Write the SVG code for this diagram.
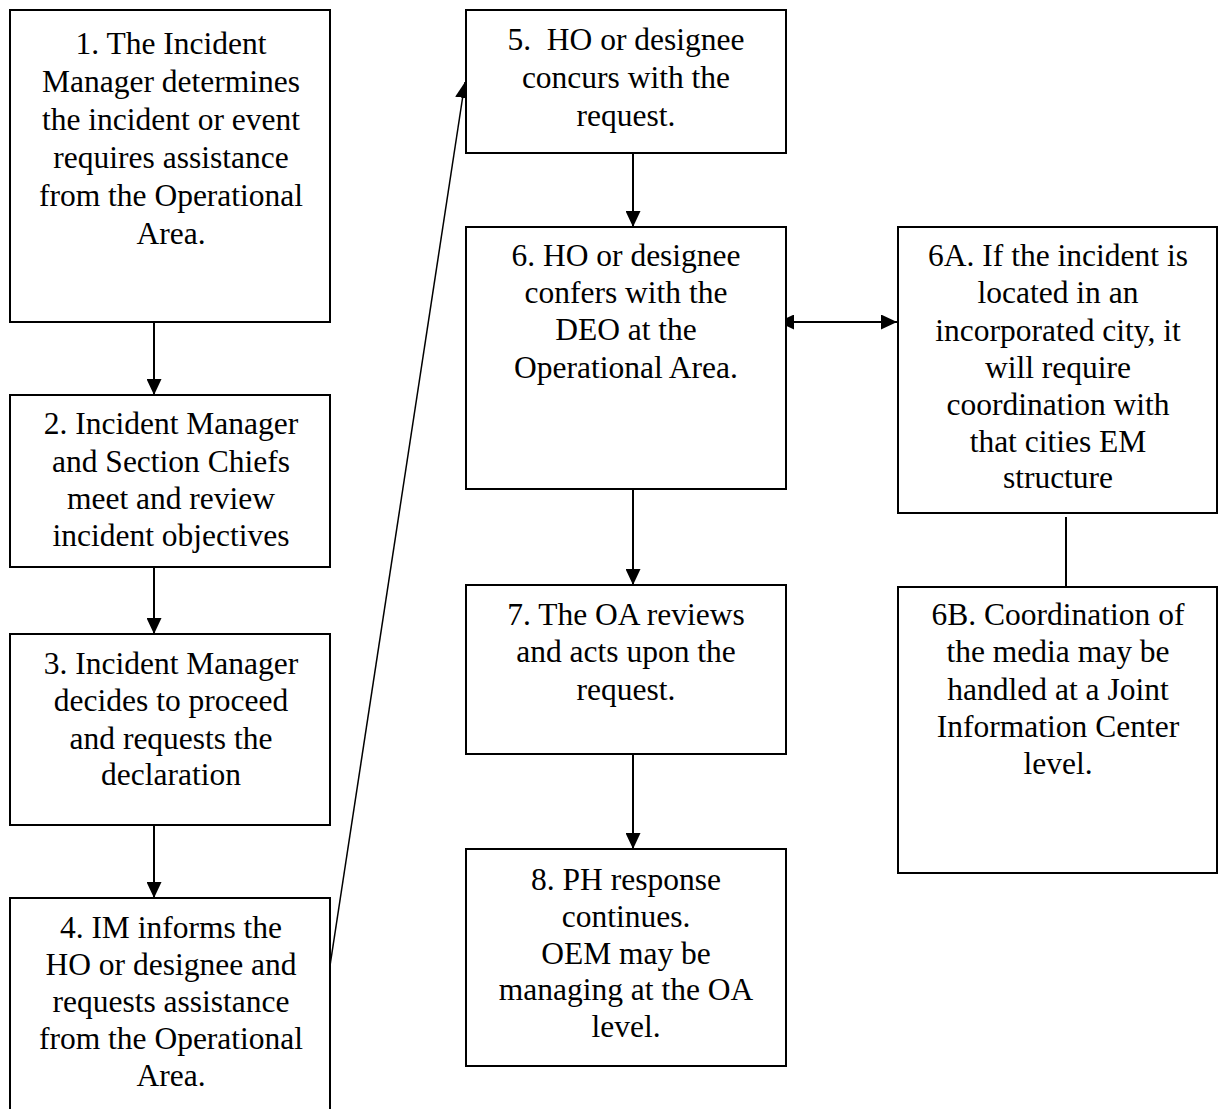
<svg xmlns="http://www.w3.org/2000/svg" width="1219" height="1109" viewBox="0 0 1219 1109">
  <style>
    .box { fill: #ffffff; stroke: #000000; stroke-width: 2; }
    .lbl { font-family: "Liberation Serif", "Times New Roman", serif; font-size: 31.5px; fill: #000000; text-anchor: middle; }
    .link { fill: none; stroke: #000000; stroke-width: 2; }
    .thin { fill: none; stroke: #000000; stroke-width: 1.5; }
  </style>
  <defs>
    <marker id="head" markerUnits="userSpaceOnUse" markerWidth="17" markerHeight="15" refX="16" refY="7.5" orient="auto-start-reverse">
      <path d="M0,0 L16,7.5 L0,15 z" fill="#000000"/>
    </marker>
  </defs>
  <rect width="1219" height="1109" fill="#ffffff"/>

  <!-- flow connectors -->
  <g id="connectors">
    <line class="link" x1="154" y1="322" x2="154" y2="395" marker-end="url(#head)"/>
    <line class="link" x1="154" y1="562" x2="154" y2="634" marker-end="url(#head)"/>
    <line class="link" x1="154" y1="825" x2="154" y2="898" marker-end="url(#head)"/>
    <line class="thin" x1="322" y1="1018" x2="465" y2="82" marker-end="url(#head)"/>
    <line class="link" x1="633" y1="153" x2="633" y2="227" marker-end="url(#head)"/>
    <line class="link" x1="633" y1="489" x2="633" y2="585" marker-end="url(#head)"/>
    <line class="link" x1="633" y1="754" x2="633" y2="849" marker-end="url(#head)"/>
    <line class="link" x1="778" y1="322" x2="897" y2="322" marker-start="url(#head)" marker-end="url(#head)"/>
    <line class="link" x1="1066" y1="517" x2="1066" y2="587"/>
  </g>

  <g id="step1">
    <rect class="box" x="10" y="10" width="320" height="312"/>
    <text class="lbl" x="171" y="54">1. The Incident</text>
    <text class="lbl" x="171" y="92">Manager determines</text>
    <text class="lbl" x="171" y="130">the incident or event</text>
    <text class="lbl" x="171" y="168">requires assistance</text>
    <text class="lbl" x="171" y="206">from the Operational</text>
    <text class="lbl" x="171" y="244">Area.</text>
  </g>

  <g id="step2">
    <rect class="box" x="10" y="395" width="320" height="172"/>
    <text class="lbl" x="171" y="434">2. Incident Manager</text>
    <text class="lbl" x="171" y="472">and Section Chiefs</text>
    <text class="lbl" x="171" y="509">meet and review</text>
    <text class="lbl" x="171" y="546">incident objectives</text>
  </g>

  <g id="step3">
    <rect class="box" x="10" y="634" width="320" height="191"/>
    <text class="lbl" x="171" y="674">3. Incident Manager</text>
    <text class="lbl" x="171" y="711">decides to proceed</text>
    <text class="lbl" x="171" y="749">and requests the</text>
    <text class="lbl" x="171" y="785">declaration</text>
  </g>

  <g id="step4">
    <rect class="box" x="10" y="898" width="320" height="230"/>
    <text class="lbl" x="171" y="938">4. IM informs the</text>
    <text class="lbl" x="171" y="975">HO or designee and</text>
    <text class="lbl" x="171" y="1012">requests assistance</text>
    <text class="lbl" x="171" y="1049">from the Operational</text>
    <text class="lbl" x="171" y="1086">Area.</text>
  </g>

  <g id="step5">
    <rect class="box" x="466" y="10" width="320" height="143"/>
    <text class="lbl" x="626" y="50" xml:space="preserve">5.  HO or designee</text>
    <text class="lbl" x="626" y="88">concurs with the</text>
    <text class="lbl" x="626" y="126">request.</text>
  </g>

  <g id="step6">
    <rect class="box" x="466" y="227" width="320" height="262"/>
    <text class="lbl" x="626" y="266">6. HO or designee</text>
    <text class="lbl" x="626" y="303">confers with the</text>
    <text class="lbl" x="626" y="340">DEO at the</text>
    <text class="lbl" x="626" y="378">Operational Area.</text>
  </g>

  <g id="step6a">
    <rect class="box" x="898" y="227" width="319" height="286"/>
    <text class="lbl" x="1058" y="266">6A. If the incident is</text>
    <text class="lbl" x="1058" y="303">located in an</text>
    <text class="lbl" x="1058" y="341">incorporated city, it</text>
    <text class="lbl" x="1058" y="378">will require</text>
    <text class="lbl" x="1058" y="415">coordination with</text>
    <text class="lbl" x="1058" y="452">that cities EM</text>
    <text class="lbl" x="1058" y="488">structure</text>
  </g>

  <g id="step6b">
    <rect class="box" x="898" y="587" width="319" height="286"/>
    <text class="lbl" x="1058" y="625">6B. Coordination of</text>
    <text class="lbl" x="1058" y="662">the media may be</text>
    <text class="lbl" x="1058" y="700">handled at a Joint</text>
    <text class="lbl" x="1058" y="737">Information Center</text>
    <text class="lbl" x="1058" y="774">level.</text>
  </g>

  <g id="step7">
    <rect class="box" x="466" y="585" width="320" height="169"/>
    <text class="lbl" x="626" y="625">7. The OA reviews</text>
    <text class="lbl" x="626" y="662">and acts upon the</text>
    <text class="lbl" x="626" y="700">request.</text>
  </g>

  <g id="step8">
    <rect class="box" x="466" y="849" width="320" height="217"/>
    <text class="lbl" x="626" y="890">8. PH response</text>
    <text class="lbl" x="626" y="927">continues.</text>
    <text class="lbl" x="626" y="964">OEM may be</text>
    <text class="lbl" x="626" y="1000">managing at the OA</text>
    <text class="lbl" x="626" y="1037">level.</text>
  </g>
</svg>
